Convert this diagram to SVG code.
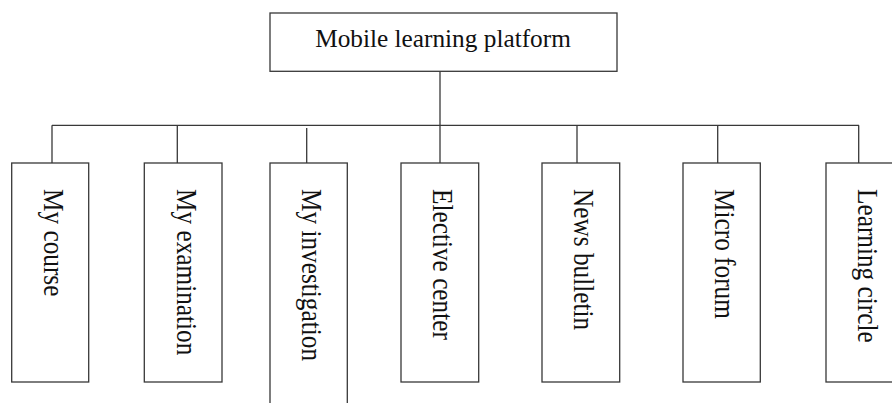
<svg xmlns="http://www.w3.org/2000/svg" width="892" height="403" viewBox="0 0 892 403">
  <style>
    .box { fill: #ffffff; stroke: #383838; stroke-width: 1.3; }
    .wire { fill: none; stroke: #383838; stroke-width: 1.3; }
    .label { font-family: "Liberation Serif", "Times New Roman", serif; font-size: 25.3px; fill: #111111; }
  </style>
  <rect width="892" height="403" fill="#ffffff"/>

  <!-- connectors: trunk, bus and drops -->
  <g id="connectors">
    <line class="wire" x1="440" y1="71" x2="440" y2="163"/>
    <line class="wire" x1="52" y1="125.3" x2="859" y2="125.3"/>
    <line class="wire" x1="52" y1="125.3" x2="52" y2="163"/>
    <line class="wire" x1="177.3" y1="125.3" x2="177.3" y2="163"/>
    <line class="wire" x1="306.7" y1="128" x2="306.7" y2="163"/>
    <line class="wire" x1="577" y1="125.3" x2="577" y2="163"/>
    <line class="wire" x1="717.7" y1="125.3" x2="717.7" y2="163"/>
    <line class="wire" x1="858.7" y1="125.3" x2="858.7" y2="163"/>
  </g>

  <!-- root -->
  <g id="platform">
    <rect class="box" x="270" y="13" width="347" height="58.3"/>
    <text class="label" x="443" y="47" text-anchor="middle">Mobile learning platform</text>
  </g>

  <!-- modules, labels run top to bottom -->
  <g id="my-course">
    <rect class="box" x="11.7" y="163" width="77" height="219"/>
    <text class="label" transform="translate(44,189) rotate(90) scale(1,1.14)">My course</text>
  </g>
  <g id="my-examination">
    <rect class="box" x="144.3" y="163" width="77.7" height="219"/>
    <text class="label" transform="translate(176.6,189) rotate(90) scale(1,1.14)">My examination</text>
  </g>
  <g id="my-investigation">
    <rect class="box" x="270" y="163" width="77.3" height="250"/>
    <text class="label" transform="translate(302.3,189) rotate(90) scale(1,1.14)">My investigation</text>
  </g>
  <g id="elective-center">
    <rect class="box" x="401" y="163" width="77.7" height="219"/>
    <text class="label" transform="translate(433.3,189) rotate(90) scale(1,1.14)">Elective center</text>
  </g>
  <g id="news-bulletin">
    <rect class="box" x="542" y="163" width="77.7" height="219"/>
    <text class="label" transform="translate(574.3,189) rotate(90) scale(1,1.14)">News bulletin</text>
  </g>
  <g id="micro-forum">
    <rect class="box" x="683" y="163" width="77.3" height="219"/>
    <text class="label" transform="translate(715.3,189) rotate(90) scale(1,1.14)">Micro forum</text>
  </g>
  <g id="learning-circle">
    <rect class="box" x="826" y="163" width="77.7" height="219"/>
    <text class="label" transform="translate(858.3,189) rotate(90) scale(1,1.14)">Learning circle</text>
  </g>
</svg>
